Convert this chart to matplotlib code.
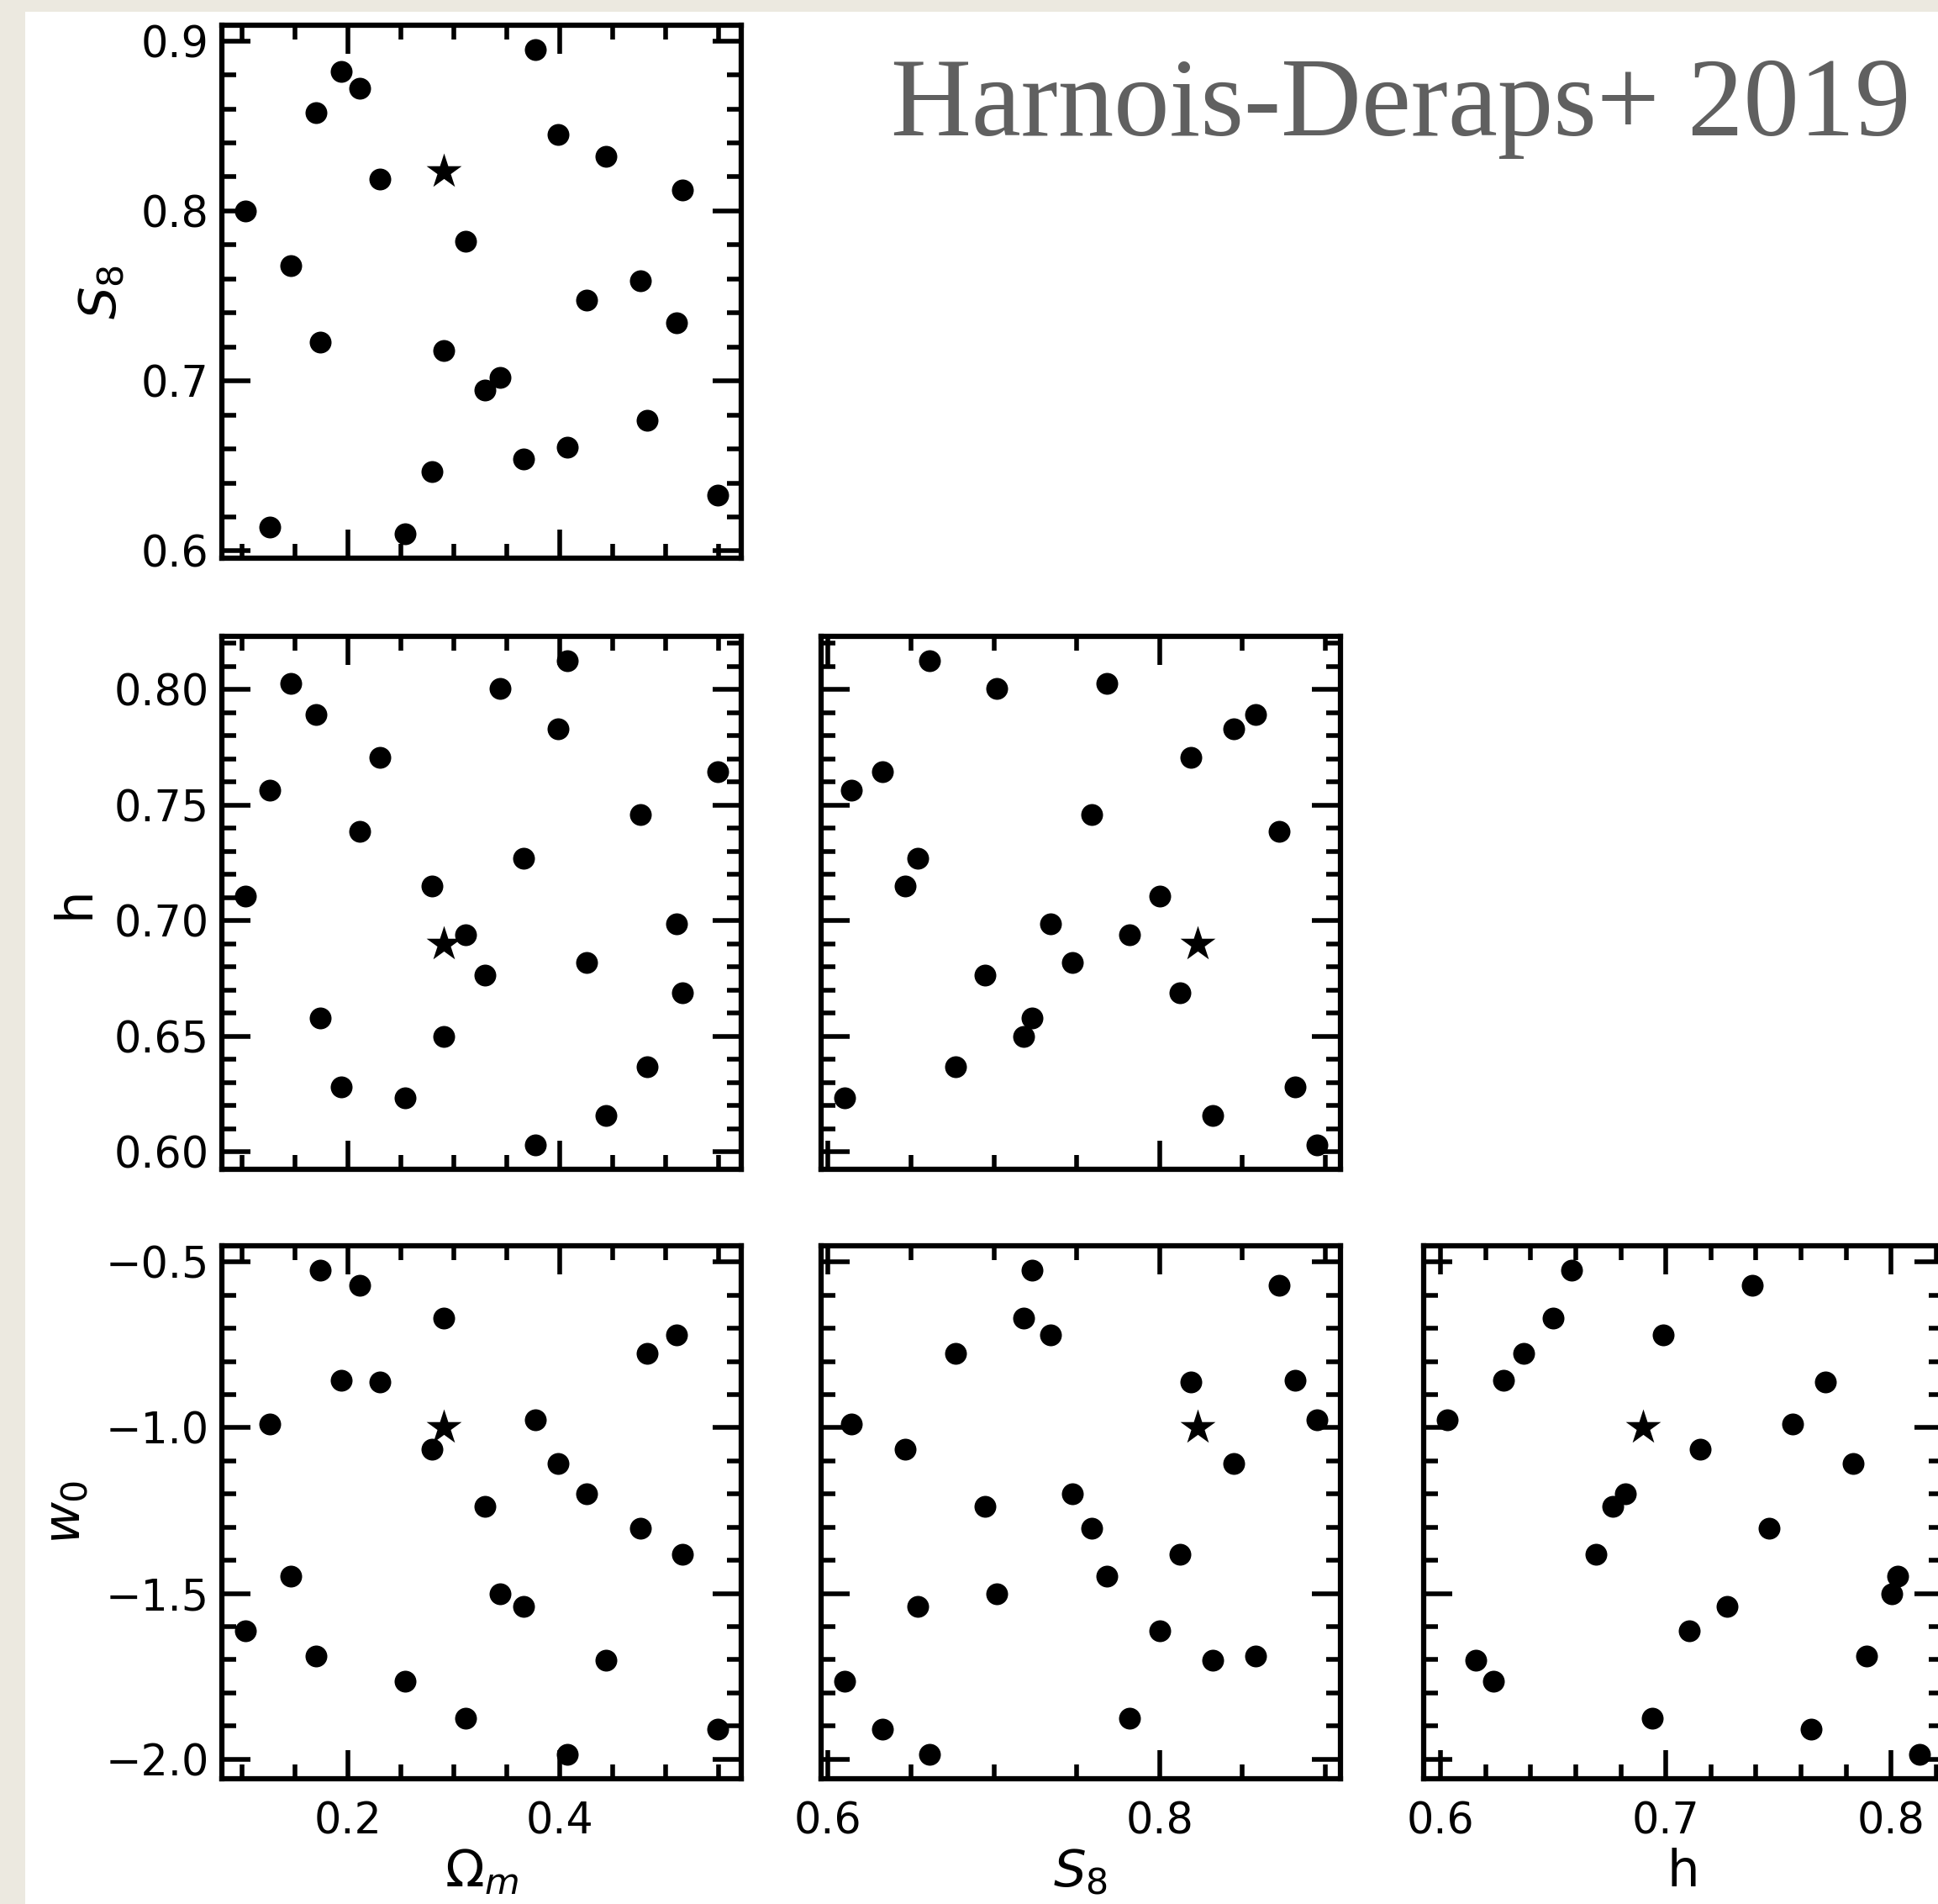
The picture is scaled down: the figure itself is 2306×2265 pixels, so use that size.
import matplotlib
matplotlib.use("Agg")
import matplotlib.pyplot as plt
from matplotlib.ticker import MultipleLocator
from matplotlib.patches import Rectangle

# ---- data: cosmo-SLICS style design points ----
omega_m = [0.103, 0.126, 0.146, 0.170, 0.1735, 0.1936, 0.211, 0.230, 0.254, 0.279,
           0.2906, 0.3108, 0.329, 0.3432, 0.3657, 0.3767, 0.3986, 0.4069, 0.4252,
           0.4439, 0.4764, 0.4828, 0.5103, 0.5158, 0.5492]
s8 = [0.800, 0.614, 0.768, 0.858, 0.723, 0.882, 0.872, 0.819, 0.610, 0.6465,
      0.718, 0.782, 0.6945, 0.702, 0.654, 0.895, 0.845, 0.661, 0.7475,
      0.832, 0.759, 0.677, 0.734, 0.8125, 0.633]
h = [0.7105, 0.7564, 0.8028, 0.789, 0.658, 0.628, 0.7385, 0.7706, 0.6236, 0.7152,
     0.650, 0.694, 0.6765, 0.8003, 0.727, 0.603, 0.783, 0.8125, 0.682,
     0.6157, 0.7458, 0.637, 0.6988, 0.669, 0.7643]
w0 = [-1.613, -0.989, -1.447, -1.688, -0.524, -0.858, -0.570, -0.861, -1.766, -1.066,
      -0.669, -1.877, -1.237, -1.500, -1.540, -0.976, -1.109, -1.986, -1.198,
      -1.702, -1.304, -0.775, -0.719, -1.381, -1.910]

fid_omega_m = 0.2905
fid_s8 = 0.8231
fid_h = 0.6898
fid_w0 = -1.0

param_names = ["Om", "S8", "h", "w0"]
param_labels = {"Om": r"$\Omega_m$", "S8": r"$S_8$", "h": "h", "w0": r"$w_0$"}
title_text = "Harnois-Deraps+ 2019"

values = {"Om": omega_m, "S8": s8, "h": h, "w0": w0}
fiducial = {"Om": fid_omega_m, "S8": fid_s8, "h": fid_h, "w0": fid_w0}

# tick spacing (major, minor) when the parameter is on x / on y
x_major = {"Om": 0.2, "S8": 0.2, "h": 0.1}
x_minor = {"Om": 0.05, "S8": 0.05, "h": 0.02}
y_major = {"S8": 0.1, "h": 0.05, "w0": 0.5}
y_minor = {"S8": 0.02, "h": 0.01, "w0": 0.1}

# ---- layout ----
W, H = 2306, 2265
DPI = 100
fig = plt.figure(figsize=(W / DPI, H / DPI), dpi=DPI, facecolor="#ECE9E0")
fig.add_artist(Rectangle((30 / W, 0), 1.0, 1 - 14 / H, transform=fig.transFigure,
                         facecolor="white", edgecolor="none", zorder=-10))

col_left = [264, 977, 1694]
row_top = [30, 757, 1482]
aw, ah = 618, 634

TICK_FS = 36.5
LABEL_FS = 44
for r in range(3):
    for c in range(r + 1):
        xk = param_names[c]
        yk = param_names[r + 1]
        ax = fig.add_axes([col_left[c] / W, 1 - (row_top[r] + ah) / H, aw / W, ah / H])
        ax.scatter(values[xk], values[yk], s=350, c="k", marker="o", linewidths=0, zorder=3)
        ax.scatter([fiducial[xk]], [fiducial[yk]], s=1000, c="k", marker="*", linewidths=0, zorder=4)
        ax.xaxis.set_major_locator(MultipleLocator(x_major[xk]))
        ax.xaxis.set_minor_locator(MultipleLocator(x_minor[xk]))
        ax.yaxis.set_major_locator(MultipleLocator(y_major[yk]))
        ax.yaxis.set_minor_locator(MultipleLocator(y_minor[yk]))
        for sp in ax.spines.values():
            sp.set_linewidth(4.5)
        ax.tick_params(which="both", direction="in", top=True, right=True,
                       width=4, labelsize=TICK_FS)
        ax.tick_params(which="major", length=24.5)
        ax.tick_params(which="minor", length=12.5)
        ax.tick_params(axis="x", pad=19)
        ax.tick_params(axis="y", pad=11)
        ax.tick_params(labelbottom=(r == 2), labelleft=(c == 0))
        if r == 2:
            ax.set_xlabel(param_labels[xk], fontsize=LABEL_FS, labelpad=4)
        if c == 0:
            ax.set_ylabel(param_labels[yk], fontsize=LABEL_FS, labelpad=12)

fig.text(1060 / W, 1 - 161 / H, title_text, family="Liberation Serif",
         fontsize=95.6, color="#606060", ha="left", va="baseline")

fig.savefig("out.png", dpi=DPI, facecolor=fig.get_facecolor())
